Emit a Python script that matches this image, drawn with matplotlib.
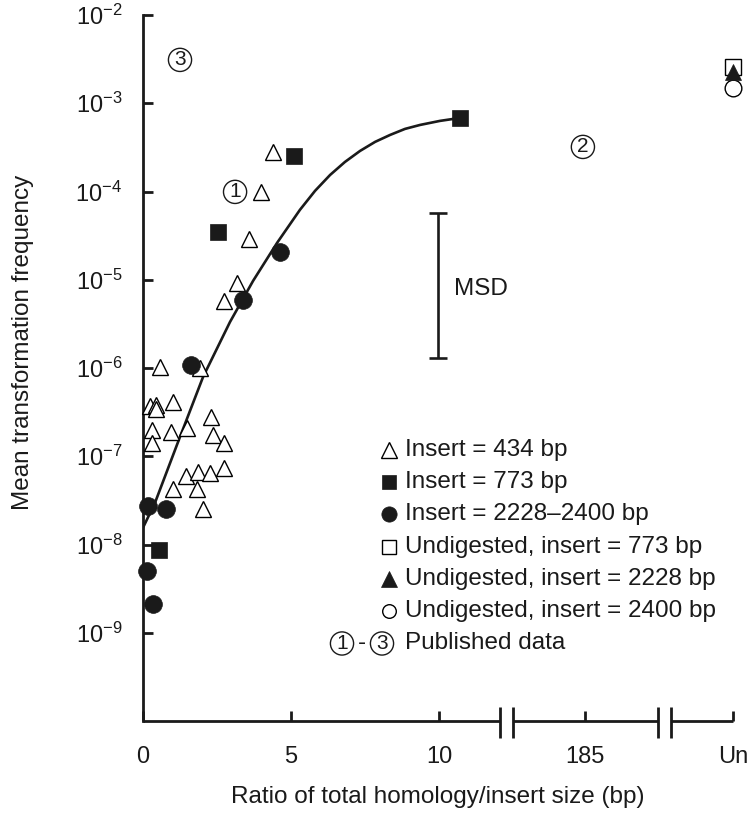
import numpy as np
import matplotlib
matplotlib.use("Agg")
import matplotlib.pyplot as plt
import matplotlib.transforms as mtransforms

plt.rcParams['font.family'] = ['Liberation Sans', 'DejaVu Sans']
plt.rcParams['mathtext.fontset'] = 'custom'
plt.rcParams['mathtext.rm'] = 'Liberation Sans'
plt.rcParams['mathtext.it'] = 'Liberation Sans:italic'
plt.rcParams['mathtext.bf'] = 'Liberation Sans:bold'

# Data (x in ratio units; "185" and "Un" sit on broken-axis positions)
POS_185 = 14.93
POS_UN = 19.93

tri_x = [0.57, 1.93, 0.24, 0.44, 0.44, 1.01, 0.30, 0.95, 1.49, 0.30, 2.30, 2.36, 2.74,
         1.45, 1.86, 2.26, 2.74, 1.01, 1.82, 2.03, 2.74, 3.18, 3.58, 3.99, 4.39]
tri_y = [1.03e-6, 1.0e-6, 3.7e-7, 3.8e-7, 3.4e-7, 4.1e-7, 2.0e-7, 1.9e-7, 2.1e-7, 1.4e-7,
         2.8e-7, 1.75e-7, 1.4e-7, 5.9e-8, 6.7e-8, 6.5e-8, 7.4e-8, 4.3e-8, 4.3e-8, 2.5e-8,
         5.8e-6, 9.2e-6, 2.9e-5, 9.9e-5, 2.8e-4]

sq_x = [0.54, 2.53, 5.10, 10.71]
sq_y = [8.7e-9, 3.5e-5, 2.5e-4, 6.8e-4]

circ_x = [0.17, 0.78, 0.14, 0.34, 1.62, 3.38, 4.63]
circ_y = [2.7e-8, 2.5e-8, 5.0e-9, 2.1e-9, 1.09e-6, 5.9e-6, 2.07e-5]

undig_sq = 2.58e-3
undig_tri = 2.26e-3
undig_circ = 1.49e-3

curve_x = [0.0, 0.405, 1.25, 2.03, 2.94, 3.72, 4.53, 5.30, 5.81, 6.32, 6.82, 7.33,
           7.84, 8.35, 8.85, 9.36, 10.03, 10.71]
curve_y = [1.55e-8, 2.97e-8, 1.66e-7, 7.94e-7, 3.33e-6, 9.73e-6, 2.62e-5, 6.19e-5,
           1.016e-4, 1.54e-4, 2.16e-4, 2.88e-4, 3.65e-4, 4.38e-4, 5.12e-4, 5.68e-4,
           6.31e-4, 6.82e-4]

msd_x = 9.95
msd_lo, msd_hi = 1.3e-6, 5.7e-5

pub_labels = ['1', '2', '3']
pub_x = [3.11, 14.86, 1.25]
pub_y = [9.9e-5, 3.2e-4, 3.1e-3]

xtick_pos = [0, 5, 10, POS_185, POS_UN]
xtick_lab = ['0', '5', '10', '185', 'Un']
ytick_exp = [-9, -8, -7, -6, -5, -4, -3, -2]
breaks = [(12.06, 12.50), (17.40, 17.84)]

legend_rows = ['Insert = 434 bp', 'Insert = 773 bp', 'Insert = 2228\u20132400 bp',
               'Undigested, insert = 773 bp', 'Undigested, insert = 2228 bp',
               'Undigested, insert = 2400 bp', 'Published data']

FS = 17.5
INK = '#1a1a1a'

fig = plt.figure(figsize=(7.49, 8.14), dpi=100)
ax = fig.add_axes([143 / 749, 1 - 721 / 814, 590 / 749, 706 / 814])
ax.set_yscale('log')
ax.set_ylim(1e-10, 1e-2)
ax.set_xlim(0, POS_UN)

LW = 2.0
tri_style = dict(ls='none', marker='^', ms=11.5, mfc='white', mec='black', mew=1.0, clip_on=False)
sq_style = dict(ls='none', marker='s', ms=11, mfc=INK, mec=INK, mew=0.5, clip_on=False)
circ_style = dict(ls='none', marker='o', ms=12.8, mfc=INK, mec=INK, mew=0.5, clip_on=False)

ax.plot(curve_x, curve_y, color=INK, lw=1.9, zorder=2)
ax.plot(tri_x, tri_y, zorder=3, **tri_style)
ax.plot(sq_x, sq_y, zorder=3, **sq_style)
ax.plot(circ_x, circ_y, zorder=3, **circ_style)

ax.plot([POS_UN], [undig_sq], ls='none', marker='s', ms=11, mfc='white', mec='black', mew=1.0, clip_on=False, zorder=3)
ax.plot([POS_UN], [undig_circ], ls='none', marker='o', ms=12, mfc='white', mec='black', mew=1.0, clip_on=False, zorder=3)
ax.plot([POS_UN], [undig_tri], ls='none', marker='^', ms=11, mfc=INK, mec=INK, mew=0.5, clip_on=False, zorder=4)

# MSD bar
mid = np.sqrt(msd_lo * msd_hi)
ax.errorbar([msd_x], [mid], yerr=[[mid - msd_lo], [msd_hi - mid]],
            fmt='none', ecolor=INK, elinewidth=1.9, capsize=6.5, capthick=1.9)
ax.text(msd_x + 0.55, 7.9e-6, 'MSD', fontsize=FS, va='center', ha='left', color=INK)


def circled(x, y, s, transform):
    ax.text(x, y, s, transform=transform, fontsize=15, ha='center', va='center',
            color=INK,
            bbox=dict(boxstyle='circle,pad=0.1', fc='none', ec=INK, lw=1.0))


for lab, px, py in zip(pub_labels, pub_x, pub_y):
    circled(px, py, lab, ax.transData)

# axes styling
for side in ['top', 'right', 'bottom']:
    ax.spines[side].set_visible(False)
ax.spines['left'].set_linewidth(LW)
ax.spines['left'].set_color(INK)

ax.set_yticks([10.0 ** e for e in ytick_exp])
ax.set_yticklabels([r'$10^{%d}$' % e for e in ytick_exp])
ax.yaxis.set_minor_locator(matplotlib.ticker.NullLocator())
ax.set_xticks(xtick_pos)
ax.set_xticklabels(xtick_lab)
ax.tick_params(axis='both', direction='in', length=7, width=LW, color=INK,
               labelsize=17, labelcolor=INK)
ax.tick_params(axis='x', pad=18)
ax.tick_params(axis='y', pad=15)

# broken x axis line
trans = mtransforms.blended_transform_factory(ax.transData, ax.transAxes)
seg_edges = [0] + [v for b in breaks for v in b] + [POS_UN]
for a, b in zip(seg_edges[0::2], seg_edges[1::2]):
    ax.plot([a, b], [0, 0], transform=trans, color=INK, lw=LW, clip_on=False,
            solid_capstyle='butt')
for b in breaks:
    for v in b:
        ax.plot([v, v], [-0.024, 0.0198], transform=trans, color=INK, lw=LW,
                clip_on=False, solid_capstyle='butt')

# legend drawn by hand
mx, tx = (389 - 143) / 590, (405 - 143) / 590
row_y = [0.384 - 0.0457 * i for i in range(7)]
leg_marks = [dict(marker='^', mfc='white', mec='black', ms=12, mew=1.0),
             dict(marker='s', mfc=INK, mec=INK, ms=10.5, mew=0.5),
             dict(marker='o', mfc=INK, mec=INK, ms=11, mew=0.5),
             dict(marker='s', mfc='white', mec='black', ms=10, mew=1.0),
             dict(marker='^', mfc=INK, mec=INK, ms=12, mew=0.5),
             dict(marker='o', mfc='white', mec='black', ms=9.8, mew=1.0)]
for i, lab in enumerate(legend_rows):
    if i < len(leg_marks):
        ax.plot([mx], [row_y[i]], transform=ax.transAxes, ls='none', clip_on=False,
                **leg_marks[i])
    ax.text(tx, row_y[i], lab, transform=ax.transAxes, fontsize=FS, va='center',
            ha='left', color=INK)
circled((342 - 143) / 590, row_y[6], '1', ax.transAxes)
ax.text((362 - 143) / 590, row_y[6], '-', transform=ax.transAxes, fontsize=FS,
        va='center', ha='center', color=INK)
circled((382 - 143) / 590, row_y[6], '3', ax.transAxes)

fig.text(23 / 749, 1 - 342 / 814, 'Mean transformation frequency', rotation=90,
         fontsize=FS, ha='center', va='center', color=INK)
fig.text(438 / 749, 1 - 797 / 814, 'Ratio of total homology/insert size (bp)',
         fontsize=FS, ha='center', va='center', color=INK)

fig.savefig('out.png', dpi=100)
